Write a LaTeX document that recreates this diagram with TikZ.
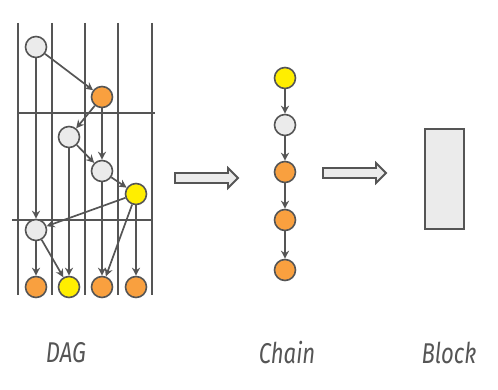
\documentclass[tikz,border=0pt]{standalone}
\usepackage{fontspec}
\usepackage{graphicx}
\setsansfont{Fira Sans}
\usetikzlibrary{arrows.meta}
\definecolor{lc}{HTML}{555555}
\definecolor{gfill}{HTML}{EBEBEB}
\definecolor{ofill}{HTML}{F9A03F}
\definecolor{yfill}{HTML}{FFEE00}
\tikzset{
  nd/.style={circle,draw=lc,line width=1.6pt,minimum size=21pt,inner sep=0pt},
  gn/.style={nd,fill=gfill},
  on/.style={nd,fill=ofill},
  yn/.style={nd,fill=yfill},
  grid/.style={draw=lc,line width=1.8pt},
  edge/.style={draw=lc,line width=1.7pt,-{Stealth[length=8pt,width=8pt]}},
  fat/.style={draw=lc,fill=gfill,line width=1.8pt,line join=miter},
  lbl/.style={text=lc,font=\sffamily\itshape\fontsize{26}{28}\selectfont}
}
\begin{document}
\begin{tikzpicture}[x=1pt,y=-1pt]
\useasboundingbox (0,0) rectangle (498,390);
% grid
\foreach \x in {18,52,85,118,152} \draw[grid] (\x,23) -- (\x,295);
\draw[grid] (18,113) -- (155,113);
\draw[grid] (12,220) -- (152,220);
% DAG nodes
\node[gn] (A) at (36,47) {};
\node[on] (B) at (102,97) {};
\node[gn] (C) at (69,137) {};
\node[gn] (D) at (102,171) {};
\node[yn] (E) at (136,194) {};
\node[gn] (F) at (36,230) {};
\node[on] (G) at (36,287) {};
\node[yn] (H) at (69,287) {};
\node[on] (I) at (102,287) {};
\node[on] (J) at (136,287) {};
\draw[edge] (A) -- (B);
\draw[edge] (A) -- (F);
\draw[edge] (B) -- (C);
\draw[edge] (B) -- (D);
\draw[edge] (C) -- (D);
\draw[edge] (C) -- (H);
\draw[edge] (D) -- (E);
\draw[edge] (D) -- (I);
\draw[edge] (E) -- (F);
\draw[edge] (E) -- (I);
\draw[edge] (E) -- (J);
\draw[edge] (F) -- (G);
\draw[edge] (F) -- (H);
% fat arrow 1
\draw[fat] (175,173) -- (228,173) -- (228,168) -- (238,178) -- (228,188) -- (228,183) -- (175,183) -- cycle;
% chain
\node[yn] (c1) at (285,78) {};
\node[gn] (c2) at (285,125) {};
\node[on] (c3) at (285,172) {};
\node[on] (c4) at (285,220) {};
\node[on] (c5) at (285,270) {};
\draw[edge] (c1) -- (c2);
\draw[edge] (c2) -- (c3);
\draw[edge] (c3) -- (c4);
\draw[edge] (c4) -- (c5);
% fat arrow 2
\draw[fat] (323,168) -- (376,168) -- (376,163) -- (386,173) -- (376,183) -- (376,178) -- (323,178) -- cycle;
% block
\node[draw=lc,fill=gfill,line width=1.8pt,minimum width=39pt,minimum height=100pt,inner sep=0pt] (blk) at (444.5,179) {};
% labels
\node[lbl] (l1) at (66,353) {\scalebox{0.85}[1.1]{DAG}};
\node[lbl] (l2) at (287,353) {\scalebox{0.85}[1.1]{Chain}};
\node[lbl] (l3) at (449,353) {\scalebox{0.85}[1.1]{Block}};
\end{tikzpicture}
\end{document}
